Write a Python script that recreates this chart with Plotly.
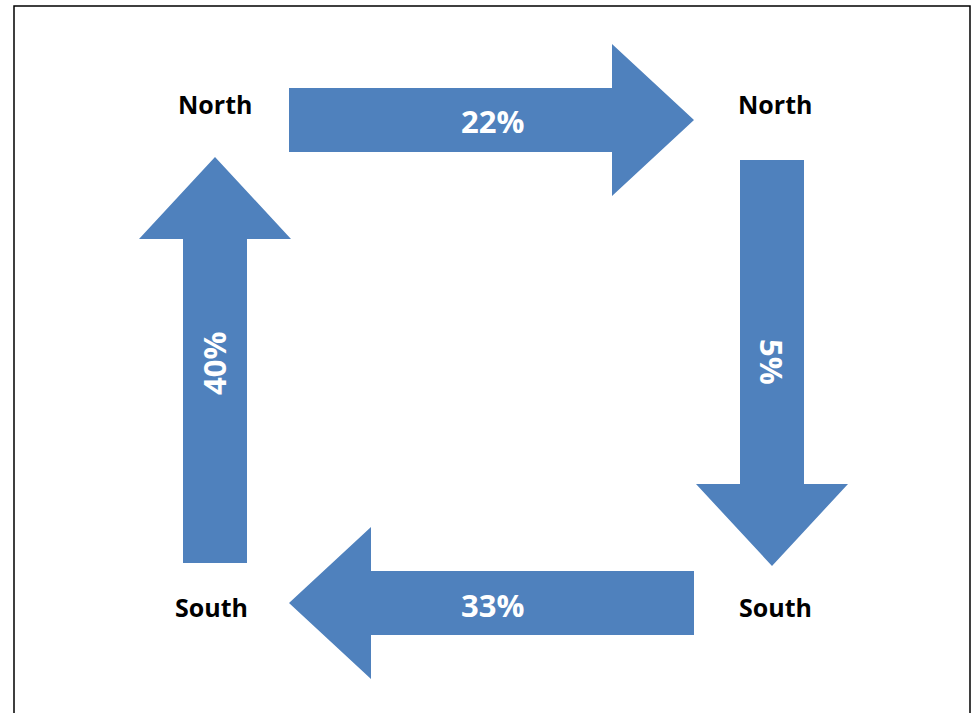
import plotly.graph_objects as go

# Data
regions = ["North", "North", "South", "South"]          # corner labels: TL, TR, BR, BL
flows = ["22%", "5%", "33%", "40%"]                      # top (→), right (↓), bottom (←), left (↑)

W, H = 977, 713
BLUE = "#4F81BD"

# arrow geometry in pixel space: (tail_x, tail_y, tip_x, tip_y)
arrows = [
    (289, 120, 694, 120),   # top, pointing right
    (772, 160, 772, 566),   # right, pointing down
    (694, 603, 289, 603),   # bottom, pointing left
    (215, 563, 215, 157),   # left, pointing up
]
shaft_half = 32
head_half = 76
head_len = 82

fig = go.Figure()

def arrow_poly(tx, ty, hx, hy):
    dx, dy = hx - tx, hy - ty
    L = (dx * dx + dy * dy) ** 0.5
    ux, uy = dx / L, dy / L
    px, py = -uy, ux
    bx, by = hx - ux * head_len, hy - uy * head_len
    pts = [
        (tx + px * shaft_half, ty + py * shaft_half),
        (bx + px * shaft_half, by + py * shaft_half),
        (bx + px * head_half, by + py * head_half),
        (hx, hy),
        (bx - px * head_half, by - py * head_half),
        (bx - px * shaft_half, by - py * shaft_half),
        (tx - px * shaft_half, ty - py * shaft_half),
        (tx + px * shaft_half, ty + py * shaft_half),
    ]
    return [p[0] for p in pts], [p[1] for p in pts]

for (tx, ty, hx, hy) in arrows:
    xs, ys = arrow_poly(tx, ty, hx, hy)
    fig.add_trace(go.Scatter(x=xs, y=ys, mode="lines", fill="toself",
                             fillcolor=BLUE, line=dict(width=0, color=BLUE),
                             hoverinfo="skip", showlegend=False))

FONT = "Open Sans, Lato, sans-serif"

# flow labels
flow_pos = [(492, 121, 0), (772, 362, 90), (492, 605, 0), (214, 364, -90)]
for txt, (x, y, ang) in zip(flows, flow_pos):
    fig.add_annotation(x=x, y=y, xref="x", yref="y", text="<b>%s</b>" % txt,
                       showarrow=False, textangle=ang,
                       font=dict(family=FONT, size=31, color="white"))

# region labels
region_pos = [(215, 104), (775, 104), (775, 607), (211, 607)]
for txt, (x, y) in zip(regions, region_pos):
    fig.add_annotation(x=x, y=y, xref="x", yref="y", text="<b>%s</b>" % txt,
                       showarrow=False,
                       font=dict(family=FONT, size=25, color="black"))

# frame
fig.add_shape(type="rect", x0=14, y0=6, x1=970, y1=725, xref="x", yref="y",
              line=dict(color="black", width=1.5), fillcolor="rgba(0,0,0,0)")

fig.update_layout(
    width=W, height=H,
    margin=dict(l=0, r=0, t=0, b=0),
    paper_bgcolor="white", plot_bgcolor="white",
    xaxis=dict(range=[0, W], visible=False, fixedrange=True),
    yaxis=dict(range=[H, 0], visible=False, fixedrange=True),
)

fig.write_html("out.html",
               config={"displayModeBar": False, "staticPlot": True},
               post_script="document.body.style.margin='0';document.body.style.overflow='hidden';")
